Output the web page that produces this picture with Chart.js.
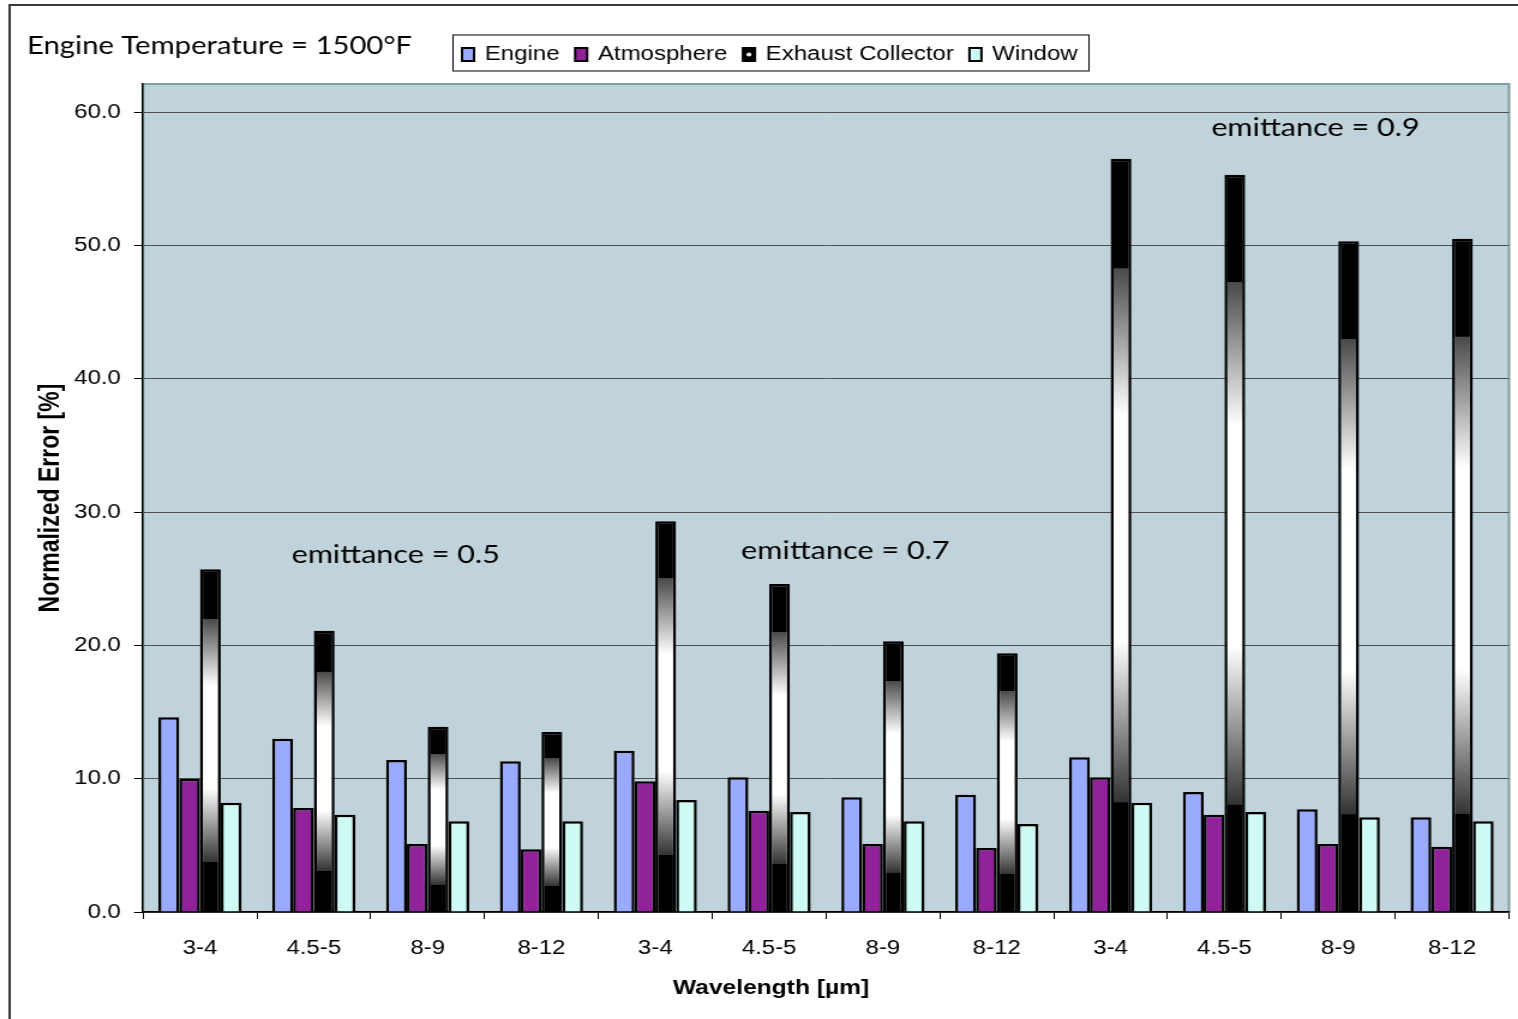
<!DOCTYPE html>
<html>
<head>
<meta charset="utf-8">
<script src="https://cdn.jsdelivr.net/npm/chart.js@4.4.1/dist/chart.umd.min.js"></script>
<style>
  html, body { margin: 0; padding: 0; background: #fff; overflow: hidden; }
  #wrap { width: 1518px; height: 1019px; }
  /* the source picture is stretched sideways, so draw narrow and widen it */
  #chart { transform: scaleX(1.2); transform-origin: 0 0; }
</style>
</head>
<body>
<div id="wrap"><canvas id="chart" width="1265" height="1019"></canvas></div>
<script>
const categories = ['3-4', '4.5-5', '8-9', '8-12', '3-4', '4.5-5', '8-9', '8-12', '3-4', '4.5-5', '8-9', '8-12'];
const engine = [14.6, 13.0, 11.4, 11.3, 12.1, 10.1, 8.6, 8.8, 11.6, 9.0, 7.7, 7.1];
const atmosphere = [10.0, 7.8, 5.1, 4.7, 9.8, 7.6, 5.1, 4.8, 10.1, 7.3, 5.1, 4.9];
const exhaustCollector = [25.7, 21.1, 13.9, 13.5, 29.3, 24.6, 20.3, 19.4, 56.5, 55.3, 50.3, 50.5];
const windowSeries = [8.2, 7.3, 6.8, 6.8, 8.4, 7.5, 6.8, 6.6, 8.2, 7.5, 7.1, 6.8];
const seriesNames = ['Engine', 'Atmosphere', 'Exhaust Collector', 'Window'];
const seriesColors = ['#9AABFF', '#91229A', '#000000', '#CEFCF4'];
const yTicks = [0, 10, 20, 30, 40, 50, 60];
const chartTitle = 'Engine Temperature = 1500°F';
const emittanceLabels = ['emittance = 0.5', 'emittance = 0.7', 'emittance = 0.9'];

// black ends with a grey-white "pipe" shading in the middle
function pipeFill(context) {
  if (context.type !== 'data' || context.raw == null) return '#000';
  const chart = context.chart;
  const y = chart.scales.y;
  if (!y) return '#000';
  const top = y.getPixelForValue(context.raw);
  const base = y.getPixelForValue(0);
  if (!isFinite(top) || !isFinite(base) || base - top < 1) return '#000';
  const g = chart.ctx.createLinearGradient(0, top, 0, base);
  g.addColorStop(0, '#000');
  g.addColorStop(0.145, '#000');
  g.addColorStop(0.146, '#4a4a4a');
  g.addColorStop(0.34, '#ffffff');
  g.addColorStop(0.64, '#ffffff');
  g.addColorStop(0.854, '#333333');
  g.addColorStop(0.855, '#000');
  g.addColorStop(1, '#000');
  return g;
}

const decor = {
  id: 'decor',
  beforeDraw(chart) {
    const { ctx, chartArea: a } = chart;
    ctx.save();
    ctx.strokeStyle = '#3a3a3a';
    ctx.lineWidth = 2;
    ctx.strokeRect(8, 5, chart.width + 20, chart.height + 20);
    ctx.fillStyle = '#C0D2DA';
    ctx.fillRect(a.left, a.top, a.width, a.height);
    ctx.strokeStyle = '#7E9FA3';
    ctx.strokeRect(a.left, a.top, a.width, a.height);
    ctx.restore();
  },
  afterDraw(chart) {
    const { ctx, scales } = chart;
    ctx.save();

    // title
    ctx.fillStyle = '#000';
    ctx.font = '24.4px Lato';
    ctx.textAlign = 'left';
    ctx.textBaseline = 'alphabetic';
    ctx.fillText(chartTitle, 22.5, 54);

    // legend
    ctx.font = '20px "Liberation Sans"';
    const widths = seriesNames.map(n => ctx.measureText(n).width);
    const total = widths.reduce((s, w) => s + 19 + w, 0) + 13 * (widths.length - 1);
    const left = 377.5, top = 35, midY = 54.5;
    ctx.fillStyle = '#fff';
    ctx.fillRect(left, top, total + 17, 36);
    ctx.strokeStyle = '#000';
    ctx.lineWidth = 1;
    ctx.strokeRect(left, top, total + 17, 36);
    let x = left + 7.5;
    ctx.textBaseline = 'middle';
    seriesNames.forEach((name, i) => {
      ctx.fillStyle = seriesColors[i];
      ctx.fillRect(x, midY - 6.5, 10, 13);
      ctx.lineWidth = 2;
      ctx.strokeStyle = '#000';
      ctx.strokeRect(x, midY - 6.5, 10, 13);
      if (i === 2) {
        ctx.fillStyle = '#fff';
        ctx.beginPath();
        ctx.arc(x + 5, midY, 2, 0, Math.PI * 2);
        ctx.fill();
      }
      ctx.fillStyle = '#000';
      ctx.fillText(name, x + 19, midY);
      x += 19 + widths[i] + 13;
    });

    // emittance notes, placed in data units
    const notes = [[1.72, 26.2], [5.67, 26.5], [9.8, 58.2]];
    ctx.font = '25.5px Lato';
    ctx.textAlign = 'center';
    ctx.textBaseline = 'alphabetic';
    notes.forEach(([ix, v], i) => {
      ctx.fillText(emittanceLabels[i], scales.x.getPixelForValue(ix), scales.y.getPixelForValue(v));
    });

    // x axis title
    ctx.font = 'bold 20.5px "Liberation Sans"';
    ctx.fillText('Wavelength [µm]', 642.5, 994);
    ctx.restore();
  }
};

const axisFont = { family: 'Liberation Sans', size: 20 };

new Chart(document.getElementById('chart'), {
  type: 'bar',
  data: {
    labels: categories,
    datasets: [
      { label: seriesNames[0], data: engine, backgroundColor: seriesColors[0], borderColor: '#000', borderWidth: 2.5 },
      { label: seriesNames[1], data: atmosphere, backgroundColor: seriesColors[1], borderColor: '#000', borderWidth: 2.5 },
      { label: seriesNames[2], data: exhaustCollector, backgroundColor: pipeFill, borderColor: '#000', borderWidth: 2.5 },
      { label: seriesNames[3], data: windowSeries, backgroundColor: seriesColors[3], borderColor: '#000', borderWidth: 2.5 }
    ]
  },
  options: {
    responsive: false,
    animation: false,
    devicePixelRatio: 1,
    layout: { padding: { top: 84, left: 29, right: 7.5, bottom: 0 } },
    datasets: { bar: { categoryPercentage: 0.73, barPercentage: 1 } },
    plugins: {
      legend: { display: false },
      title: { display: false },
      tooltip: { enabled: false }
    },
    scales: {
      x: {
        grid: { drawOnChartArea: false, color: '#000', tickLength: 7, offset: true },
        border: { color: '#000', width: 1.5 },
        ticks: { color: '#000', font: axisFont, padding: 17, maxRotation: 0, autoSkip: false },
        afterFit(s) { s.height = 107; }
      },
      y: {
        min: 0,
        max: 62.1,
        afterBuildTicks(s) { s.ticks = yTicks.map(v => ({ value: v })); },
        ticks: { color: '#000', font: axisFont, padding: 11, callback: v => v.toFixed(1) },
        grid: { color: '#505050', lineWidth: 1, tickLength: 7.5, tickColor: '#000' },
        border: { color: '#000', width: 1.5 },
        title: {
          display: true,
          text: 'Normalized Error [%]',
          color: '#000',
          font: { family: 'Liberation Sans', size: 23, weight: 'bold' },
          padding: 0
        },
        afterFit(s) { s.width = 90.2; }
      }
    }
  },
  plugins: [decor]
});
</script>
</body>
</html>
